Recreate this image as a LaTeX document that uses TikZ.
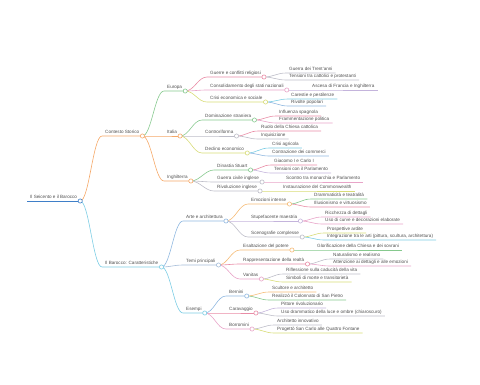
\documentclass[tikz,border=0pt]{standalone}
\usepackage{fontspec}
\setmainfont{Liberation Sans}
\definecolor{txtc}{HTML}{505050}
\definecolor{cRoot}{HTML}{3F7FC8}
\definecolor{cOr}{HTML}{F5A868}
\definecolor{cCy}{HTML}{7CCDE4}
\definecolor{cGr}{HTML}{86C98E}
\definecolor{cPk}{HTML}{E98CA6}
\definecolor{cPk2}{HTML}{E8A4C8}
\definecolor{cYe}{HTML}{D8DC78}
\definecolor{cGy}{HTML}{BDBDC8}
\definecolor{cLv}{HTML}{C4B4DC}
\definecolor{cBl}{HTML}{90B8E0}
\definecolor{cBl2}{HTML}{A4BCD8}
\definecolor{cOr2}{HTML}{F5BC78}
\begin{document}
\begin{tikzpicture}[x=1pt,y=-1pt,
  txt/.style={anchor=south west,inner xsep=3pt,inner ysep=1pt,text height=3.4pt,text depth=1pt,
    font=\fontsize{4.6}{5.5}\selectfont,text=txtc},
  ln/.style={line width=0.6pt},
  dot/.style={circle,fill=white,line width=0.6pt,minimum size=4.2pt,inner sep=0pt}]
\useasboundingbox (0,0) rectangle (480,384);
\newcommand\mmtopic[4]{\node[txt] (#1) at (#2-3,#3) {#4}; \coordinate (#1c) at (#1.south east);}
\newcommand\mmlink[3]{\draw[ln,#3] (#1c) to[out=0,in=180,out distance=9,in distance=9] (#2.south west) -- (#2.south east);}
\newcommand\mmdot[2]{\node[dot,draw=#2] (#1d) at (#1c) {};}
% nodes
\mmtopic{root}{30}{201}{Il Seicento e il Barocco}
\mmtopic{cs}{105}{136}{Contesto Storico}
\mmtopic{bc}{105}{267}{Il Barocco: Caratteristiche}
\mmtopic{eu}{167}{91}{Europa}
\mmtopic{it}{167}{136}{Italia}
\mmtopic{en}{167}{181}{Inghilterra}
\mmtopic{gc}{210}{77}{Guerre e conflitti religiosi}
\mmtopic{cn}{210}{90}{Consolidamento degli stati nazionali}
\mmtopic{ce}{210}{102}{Crisi economica e sociale}
\mmtopic{gt}{289}{73}{Guerra dei Trent'anni}
\mmtopic{tc}{289}{80}{Tensioni tra cattolici e protestanti}
\mmtopic{af}{312}{90}{Ascesa di Francia e Inghilterra}
\mmtopic{cp}{291}{99}{Carestie e pestilenze}
\mmtopic{rp}{291}{106}{Rivolte popolari}
\mmtopic{ds}{205}{120}{Dominazione straniera}
\mmtopic{cr}{205}{136}{Controriforma}
\mmtopic{de}{205}{153}{Declino economico}
\mmtopic{is}{279}{116}{Influenza spagnola}
\mmtopic{fp}{279}{123}{Frammentazione politica}
\mmtopic{rc}{261}{131}{Ruolo della Chiesa cattolica}
\mmtopic{iq}{261}{139}{Inquisizione}
\mmtopic{ca}{272}{148}{Crisi agricola}
\mmtopic{co}{272}{156}{Contrazione dei commerci}
\mmtopic{st}{217}{170}{Dinastia Stuart}
\mmtopic{gi}{217}{182}{Guerra civile inglese}
\mmtopic{ri}{217}{191}{Rivoluzione inglese}
\mmtopic{gk}{274}{165}{Giacomo I e Carlo I}
\mmtopic{tp}{274}{173}{Tensioni con il Parlamento}
\mmtopic{sm}{286}{182}{Scontro tra monarchia e Parlamento}
\mmtopic{ic}{283}{191}{Instaurazione del Commonwealth}
\mmtopic{aa}{186}{221}{Arte e architettura}
\mmtopic{tm}{186}{265}{Temi principali}
\mmtopic{ex}{186}{313}{Esempi}
\mmtopic{ei}{251}{204}{Emozioni intense}
\mmtopic{sf}{251}{221}{Stupefacente maestria}
\mmtopic{sc}{251}{237}{Scenografie complesse}
\mmtopic{dt}{314}{199}{Drammaticità e teatralità}
\mmtopic{iv}{314}{207}{Illusionismo e virtuosismo}
\mmtopic{rd}{325}{217}{Ricchezza di dettagli}
\mmtopic{uc}{325}{224}{Uso di curve e decorazioni elaborate}
\mmtopic{pa}{327}{233}{Prospettive ardite}
\mmtopic{ia}{327}{240}{Integrazione tra le arti (pittura, scultura, architettura)}
\mmtopic{ep}{243}{250}{Esaltazione del potere}
\mmtopic{rr}{243}{264}{Rappresentazione della realtà}
\mmtopic{va}{243}{279}{Vanitas}
\mmtopic{gl}{317}{250}{Glorificazione della Chiesa e dei sovrani}
\mmtopic{nr}{333}{259}{Naturalismo e realismo}
\mmtopic{ad}{333}{266}{Attenzione ai dettagli e alle emozioni}
\mmtopic{rf}{286}{274}{Riflessione sulla caducità della vita}
\mmtopic{sb}{286}{282}{Simboli di morte e transitorietà}
\mmtopic{be}{229}{296}{Bernini}
\mmtopic{cv}{229}{313}{Caravaggio}
\mmtopic{bo}{229}{329}{Borromini}
\mmtopic{sa}{272}{292}{Scultore e architetto}
\mmtopic{rz}{272}{300}{Realizzò il Colonnato di San Pietro}
\mmtopic{pr}{281}{308}{Pittore rivoluzionario}
\mmtopic{ud}{281}{316}{Uso drammatico della luce e ombre (chiaroscuro)}
\mmtopic{ai}{277}{325}{Architetto innovativo}
\mmtopic{ps}{277}{333}{Progettò San Carlo alle Quattro Fontane}
% root underline
\draw[cRoot,line width=0.9pt] (root.south west) -- (root.south east);
% links
\mmlink{root}{cs}{cOr}
\mmlink{root}{bc}{cCy}
\mmlink{cs}{eu}{cGr}
\mmlink{cs}{it}{cOr}
\mmlink{cs}{en}{cOr}
\mmlink{eu}{gc}{cPk}
\mmlink{eu}{cn}{cPk2}
\mmlink{eu}{ce}{cYe}
\mmlink{gc}{gt}{cGy}
\mmlink{gc}{tc}{cGy}
\mmlink{cn}{af}{cLv}
\mmlink{ce}{cp}{cCy}
\mmlink{ce}{rp}{cBl}
\mmlink{it}{ds}{cGr}
\mmlink{it}{cr}{cGy}
\mmlink{it}{de}{cYe}
\mmlink{ds}{is}{cPk}
\mmlink{ds}{fp}{cPk2}
\mmlink{cr}{rc}{cPk}
\mmlink{cr}{iq}{cGy}
\mmlink{de}{ca}{cCy}
\mmlink{de}{co}{cBl}
\mmlink{en}{st}{cGr}
\mmlink{en}{gi}{cGy}
\mmlink{en}{ri}{cGy}
\mmlink{st}{gk}{cPk}
\mmlink{st}{tp}{cLv}
\mmlink{gi}{sm}{cPk2}
\mmlink{ri}{ic}{cYe}
\mmlink{bc}{aa}{cBl}
\mmlink{bc}{tm}{cBl2}
\mmlink{bc}{ex}{cCy}
\mmlink{aa}{ei}{cOr2}
\mmlink{aa}{sf}{cLv}
\mmlink{aa}{sc}{cGy}
\mmlink{ei}{dt}{cGr}
\mmlink{ei}{iv}{cPk}
\mmlink{sf}{rd}{cPk2}
\mmlink{sf}{uc}{cPk2}
\mmlink{sc}{pa}{cYe}
\mmlink{sc}{ia}{cCy}
\mmlink{tm}{ep}{cOr2}
\mmlink{tm}{rr}{cPk}
\mmlink{tm}{va}{cPk2}
\mmlink{ep}{gl}{cGr}
\mmlink{rr}{nr}{cGy}
\mmlink{rr}{ad}{cPk2}
\mmlink{va}{rf}{cGy}
\mmlink{va}{sb}{cYe}
\mmlink{ex}{be}{cBl}
\mmlink{ex}{cv}{cPk}
\mmlink{ex}{bo}{cPk2}
\mmlink{be}{sa}{cOr2}
\mmlink{be}{rz}{cGr}
\mmlink{cv}{pr}{cLv}
\mmlink{cv}{ud}{cGy}
\mmlink{bo}{ai}{cGy}
\mmlink{bo}{ps}{cYe}
% dots
\mmdot{root}{cRoot}
\mmdot{cs}{cOr}
\mmdot{bc}{cCy}
\mmdot{eu}{cGr}
\mmdot{it}{cOr}
\mmdot{en}{cOr}
\mmdot{gc}{cPk}
\mmdot{cn}{cPk2}
\mmdot{ce}{cYe}
\mmdot{ds}{cGr}
\mmdot{cr}{cGy}
\mmdot{de}{cYe}
\mmdot{st}{cGr}
\mmdot{gi}{cGy}
\mmdot{ri}{cGy}
\mmdot{aa}{cBl}
\mmdot{tm}{cBl2}
\mmdot{ex}{cCy}
\mmdot{ei}{cOr2}
\mmdot{sf}{cLv}
\mmdot{sc}{cGy}
\mmdot{ep}{cOr2}
\mmdot{rr}{cPk}
\mmdot{va}{cPk2}
\mmdot{be}{cBl}
\mmdot{cv}{cPk}
\mmdot{bo}{cPk2}
\end{tikzpicture}
\end{document}
